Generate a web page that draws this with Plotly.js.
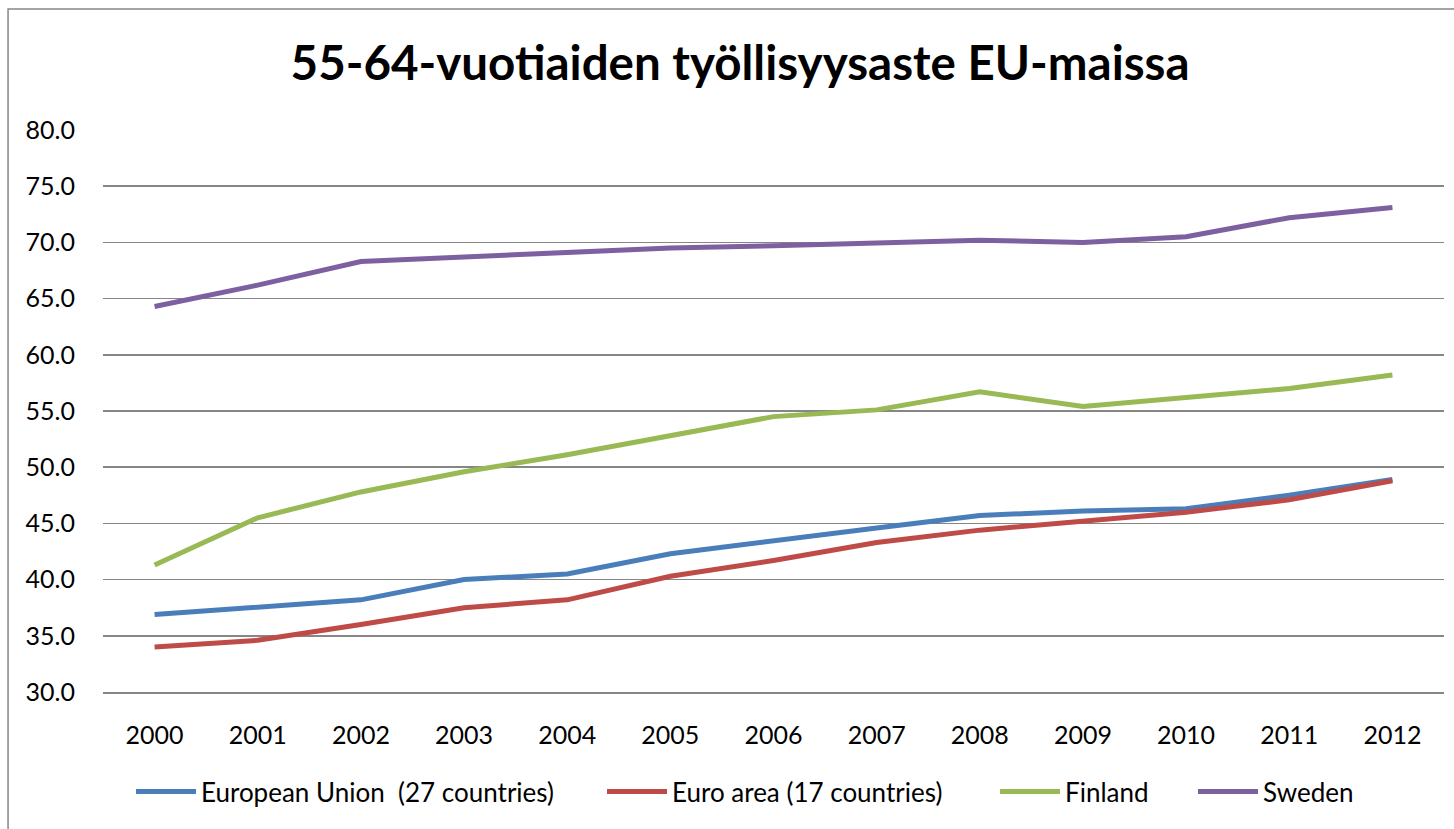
<!DOCTYPE html>
<html>
<head>
<meta charset="utf-8">
<script src="https://cdn.plot.ly/plotly-3.0.1.min.js"></script>
<style>
html,body{margin:0;padding:0;background:#fff;}
#chart{width:1454px;height:829px;}
</style>
</head>
<body>
<div id="chart"></div>
<script>
const years = ["2000","2001","2002","2003","2004","2005","2006","2007","2008","2009","2010","2011","2012"];
const euValues = [36.9, 37.5, 38.2, 40.0, 40.5, 42.3, 43.5, 44.6, 45.7, 46.1, 46.3, 47.5, 48.9];
const euroAreaValues = [34.0, 34.6, 36.0, 37.5, 38.2, 40.3, 41.7, 43.3, 44.4, 45.2, 46.0, 47.1, 48.8];
const finlandValues = [41.3, 45.5, 47.8, 49.6, 51.1, 52.8, 54.5, 55.1, 56.7, 55.4, 56.2, 57.0, 58.2];
const swedenValues = [64.3, 66.2, 68.3, 68.7, 69.1, 69.5, 69.7, 70.0, 70.2, 70.0, 70.5, 72.2, 73.1];
const seriesNames = ["European Union  (27 countries)", "Euro area (17 countries)", "Finland", "Sweden"];
const yTicks = [30, 35, 40, 45, 50, 55, 60, 65, 70, 75, 80];

const colors = ["#4A7EBB", "#BE4B48", "#98B954", "#7D60A0"];
const allValues = [euValues, euroAreaValues, finlandValues, swedenValues];
const legendIds = ["legend", "legend2", "legend3", "legend4"];
// left pixel position of each legend entry (layout only)
const legendLeft = [131, 602, 995, 1193];

const traces = allValues.map((vals, i) => ({
  type: "scatter",
  mode: "lines",
  x: years,
  y: vals,
  name: seriesNames[i],
  legend: legendIds[i],
  line: {color: colors[i], width: 5},
  hoverinfo: "x+y+name"
}));

const font = "Lato, 'Open Sans', 'Liberation Sans', sans-serif";

const layout = {
  width: 1454,
  height: 829,
  paper_bgcolor: "#ffffff",
  plot_bgcolor: "#ffffff",
  margin: {l: 103, r: 10, t: 130, b: 137, autoexpand: false},
  font: {family: font, size: 25, color: "#000"},
  title: {
    text: "<b>55-64-vuotiaiden työllisyysaste EU-maissa</b>",
    font: {family: font, size: 47.5, color: "#000"},
    x: 0.509, xref: "container", xanchor: "center",
    y: 0.924, yref: "container", yanchor: "middle"
  },
  xaxis: {
    type: "category",
    range: [-0.5, 12.5],
    showgrid: false,
    showline: true,
    linecolor: "#868686",
    linewidth: 2,
    ticks: "",
    tickfont: {family: font, size: 25, color: "#000"},
    ticklabelstandoff: 20,
    fixedrange: true
  },
  yaxis: {
    range: [30, 80],
    tickvals: yTicks,
    ticktext: yTicks.map(v => v.toFixed(1)),
    showgrid: true,
    gridcolor: "#868686",
    gridwidth: 1.5,
    zeroline: false,
    showline: false,
    ticks: "",
    tickfont: {family: font, size: 25, color: "#000"},
    ticklabelstandoff: 27,
    fixedrange: true
  },
  showlegend: true,
  shapes: [{
    type: "rect",
    xref: "paper", yref: "paper",
    x0: -0.0708, x1: 1.2, y0: -0.3, y1: 1.2153,
    line: {color: "#868686", width: 1.5},
    fillcolor: "rgba(0,0,0,0)",
    layer: "below"
  }]
};

legendIds.forEach((id, i) => {
  layout[id] = {
    orientation: "h",
    x: legendLeft[i] / 1454, xref: "container", xanchor: "left",
    y: 0.045, yref: "container", yanchor: "middle",
    font: {family: font, size: 26, color: "#000"},
    itemwidth: 60,
    bgcolor: "rgba(0,0,0,0)"
  };
});

Plotly.newPlot("chart", traces, layout, {displayModeBar: false, staticPlot: true});
</script>
</body>
</html>
